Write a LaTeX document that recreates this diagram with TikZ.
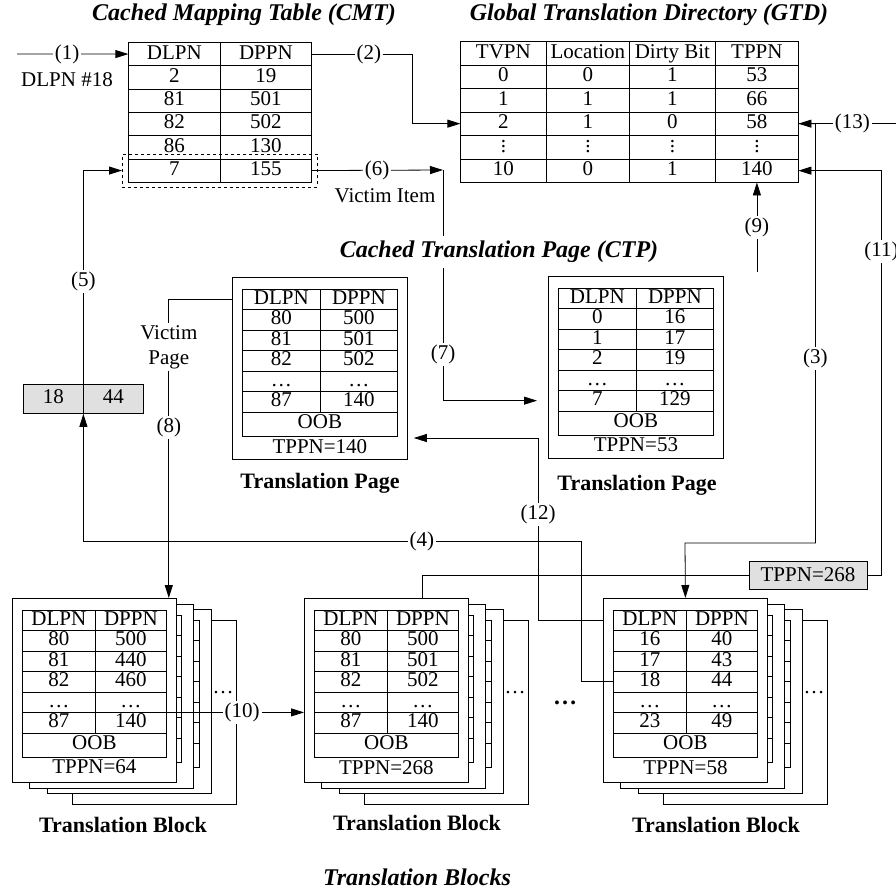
\documentclass[tikz,border=0pt]{standalone}
\usepackage{fontspec}
\setmainfont{Liberation Serif}
\usetikzlibrary{matrix, positioning, fit, calc, arrows.meta}

\newcommand\vdts{\vbox{\baselineskip=5pt\lineskiplimit=0pt\hbox{.}\hbox{.}\hbox{.}}}

% one translation page: name, kind (blk/ctp), top-left corner, rows, TPPN
\newcommand\tpage[5]{%
  \node[#2page] (#1) at (#3) {};
  \matrix (#1t) [#2tbl, ampersand replacement=\&, below=11.5pt of #1.north] {#4};
  \node[#2oob, below=-0.8pt of #1t] (#1o) {OOB};
  \node[below=-1pt of #1o] {TPPN=#5};
}

% pages stacked behind the front page of a block
\newcommand\blkstack[1]{%
  \draw[pageline] ($(#1)+(60,22)$) rectangle ++(164,184);
  \node at ($(#1)+(211,95)$) {\dots};
  \foreach \dx/\dy in {35/11, 17/6} {
    \draw[pageline] ($(#1)+(\dx,\dy)$) rectangle ++(164,184);
    \draw ($(#1)+(\dx+8,\dy+11)$) rectangle ++(144,147);
    \foreach \r in {20.5,41,61.5,82,102.5,123}
      \draw ($(#1)+(\dx+8,\dy+11+\r)$) -- ++(144,0);
  }
}

\begin{document}
\begin{tikzpicture}[x=1pt, y=-1pt, line width=0.8pt,
    font=\fontsize{21}{25}\selectfont,
    pageline/.style={draw, fill=white},
    tbl/.style={matrix of nodes, inner sep=0pt, outer sep=0pt,
      row sep=-0.8pt, column sep=-0.8pt,
      nodes={draw, fill=white, inner sep=0pt, minimum height=#1,
        text height=14pt, text depth=4pt}},
    cmttbl/.style={tbl=23.3pt, anchor=north west,
      column 1/.style={nodes={minimum width=92pt}},
      column 2/.style={nodes={minimum width=91pt}}},
    gtdtbl/.style={tbl=23.5pt, anchor=north west,
      column 1/.style={nodes={minimum width=86pt}},
      column 2/.style={nodes={minimum width=83pt}},
      column 3/.style={nodes={minimum width=86pt}},
      column 4/.style={nodes={minimum width=83pt}}},
    blkpage/.style={pageline, inner sep=0pt, minimum width=164pt, minimum height=184pt, anchor=north west},
    ctppage/.style={pageline, inner sep=0pt, minimum width=175pt, minimum height=182pt, anchor=north west},
    blktbl/.style={tbl=20.5pt,
      column 1/.style={nodes={minimum width=73pt}},
      column 2/.style={nodes={minimum width=71pt}}},
    ctptbl/.style={tbl=20.5pt,
      column 1/.style={nodes={minimum width=78pt}},
      column 2/.style={nodes={minimum width=77pt}}},
    blkoob/.style={draw, inner sep=0pt, minimum width=144pt, minimum height=24pt, text height=14pt, text depth=4pt},
    ctpoob/.style={draw, inner sep=0pt, minimum width=155pt, minimum height=24pt, text height=14pt, text depth=4pt},
    graybox/.style={draw, fill=black!12, inner sep=0pt},
    arrow/.style={draw, -{Triangle[length=13pt, width=8pt]}},
    lbl/.style={fill=white, inner sep=2pt},
    ttl/.style={fill=white, inner sep=5pt, font=\fontsize{24}{28}\selectfont\bfseries\itshape},
    capt/.style={font=\fontsize{22}{26}\selectfont\bfseries}
]
\useasboundingbox (0,0) rectangle (896,892);

% Tables
\matrix (cmt) [cmttbl] at (128,42) {
  DLPN & DPPN \\
  2 & 19 \\
  81 & 501 \\
  82 & 502 \\
  86 & 130 \\
  7 & 155 \\
};
\node[draw, dashed, fit=(cmt-6-1)(cmt-6-2), inner xsep=6pt, inner ysep=5pt] (victim) {};

\matrix (gtd) [gtdtbl] at (460,41) {
  TVPN & Location & Dirty Bit & TPPN \\
  0 & 0 & 1 & 53 \\
  1 & 1 & 1 & 66 \\
  2 & 1 & 0 & 58 \\
  \vdts & \vdts & \vdts & \vdts \\
  10 & 0 & 1 & 140 \\
};

\matrix (kv) [tbl=29pt, nodes={fill=black!12, minimum width=60pt}, anchor=north west] at (23,384) {
  18 & 44 \\
};

\node[graybox, minimum width=118pt, minimum height=28pt] (t268) at (808,575) {TPPN=268};

% Cached translation pages
\tpage{ctp1}{ctp}{232,277}{DLPN \& DPPN \\ 80 \& 500 \\ 81 \& 501 \\ 82 \& 502 \\ \dots \& \dots \\ 87 \& 140 \\}{140}
\tpage{ctp2}{ctp}{548,276}{DLPN \& DPPN \\ 0 \& 16 \\ 1 \& 17 \\ 2 \& 19 \\ \dots \& \dots \\ 7 \& 129 \\}{53}

% Translation blocks
\blkstack{12,598}
\tpage{b1}{blk}{12,598}{DLPN \& DPPN \\ 80 \& 500 \\ 81 \& 440 \\ 82 \& 460 \\ \dots \& \dots \\ 87 \& 140 \\}{64}
\blkstack{304,598}
\tpage{b2}{blk}{304,598}{DLPN \& DPPN \\ 80 \& 500 \\ 81 \& 501 \\ 82 \& 502 \\ \dots \& \dots \\ 87 \& 140 \\}{268}
\blkstack{603,598}
\tpage{b3}{blk}{603,598}{DLPN \& DPPN \\ 16 \& 40 \\ 17 \& 43 \\ 18 \& 44 \\ \dots \& \dots \\ 23 \& 49 \\}{58}
\node[font=\fontsize{24}{28}\selectfont\bfseries] at (565,703) {\dots};

% Free ends and bends
\coordinate (in1) at (17,54);
\coordinate (vict) at (443,170);
\coordinate (turn3) at (685,543);
\coordinate (turn4) at (581,541);
\coordinate (turn12) at (538,438);
\coordinate (in9) at ([yshift=-90pt]gtd-6-4.south);
\coordinate (in13) at ([xshift=98pt]gtd-4-4.east);

% Arrows
\draw[arrow] (in1) -- node[lbl, pos=0.45] {(1)} (cmt-1-1.west);
\draw[arrow] (cmt-1-2.east) -- node[lbl, pos=0.57] {(2)} ++(101,0) |- (gtd-4-1.west);
\draw[arrow] (gtd-4-4.east) -- ++(17,0) |- node[lbl, pos=0.28] {(3)} (turn3) -- (b3.north);
\draw[arrow] (b3t-4-1.west) -| (turn4) -| node[lbl, pos=0.16] {(4)} (kv.south);
\draw[arrow] (kv.north) |- node[lbl, pos=0.24] {(5)} (victim.west);
\draw[arrow] (cmt-6-2.east) -- node[lbl] {(6)} (vict);
\draw[arrow, shorten >=11pt] (vict) |- node[lbl, pos=0.4] {(7)} (ctp2.west |- ctp2t-6-1);
\draw[arrow] (ctp1.west |- ctp1t-1-1) -| node[lbl, align=center, pos=0.58] {Victim\\Page}
  node[lbl, pos=0.715] {(8)} ([xshift=-8pt]b1.north east);
\draw[arrow] (in9) -- node[lbl] {(9)} (gtd-6-4.south);
\draw[arrow] (b1t-5-2.south east) -- node[lbl, pos=0.55] {(10)} (b2.west |- b1t-5-2.south east);
\draw ([xshift=36pt]b2.north) |- (t268.west);
\draw[arrow] (t268.east) -- ++(14,0) |- node[lbl, pos=0.4] {(11)} (gtd-6-4.east);
\draw[arrow, shorten >=6pt] (b3.west |- b3t-1-1) -| node[lbl, pos=0.79] {(12)} (turn12) -- (ctp1.east |- turn12);
\draw[arrow] (in13) -- node[lbl, pos=0.45] {(13)} (gtd-4-4.east);

% Texts
\node at (67,80) {DLPN \#18};
\node at (385,196) {Victim Item};
\node[ttl] at (244,15) {Cached Mapping Table (CMT)};
\node[ttl] at (649,15) {Global Translation Directory (GTD)};
\node[ttl] at (499,252) {Cached Translation Page (CTP)};
\node[capt] at (320,483) {Translation Page};
\node[capt] at (637,485) {Translation Page};
\node[capt] at (123,825) {Translation Block};
\node[capt] at (417,823) {Translation Block};
\node[capt] at (716,825) {Translation Block};
\node[ttl] at (417,877) {Translation Blocks};

\end{tikzpicture}
\end{document}
